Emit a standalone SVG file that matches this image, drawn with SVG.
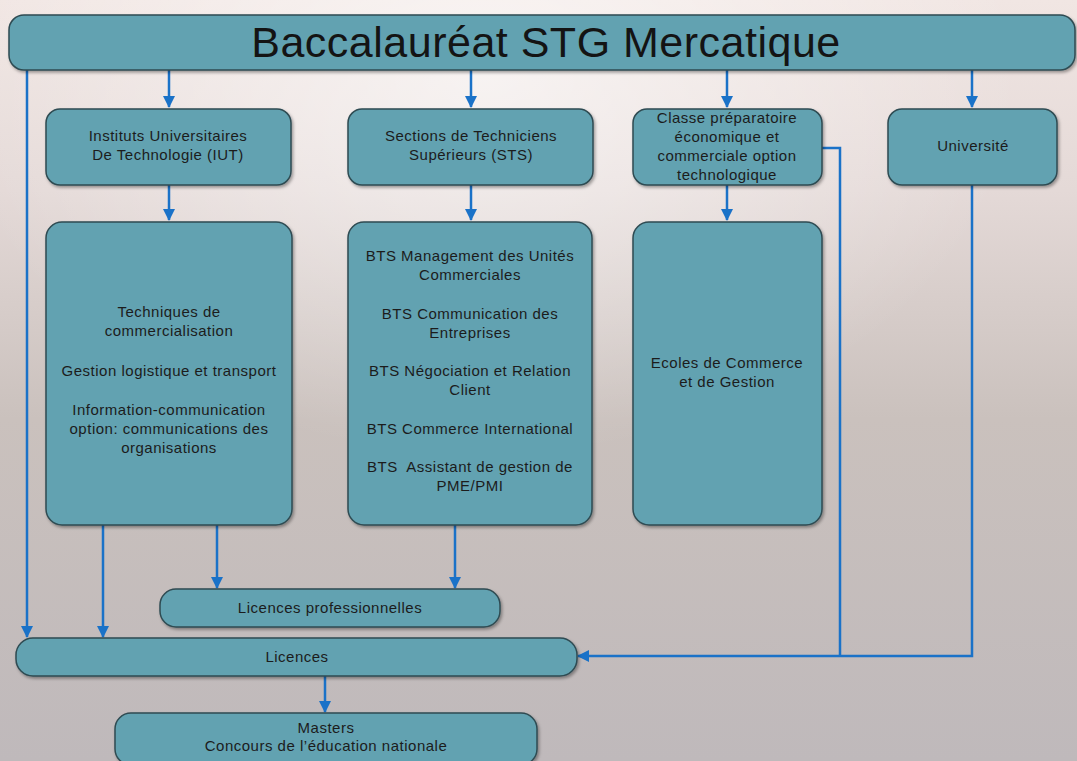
<svg xmlns="http://www.w3.org/2000/svg" width="1077" height="761" viewBox="0 0 1077 761">
<defs>
<linearGradient id="bg" x1="0" y1="0" x2="0" y2="1">
<stop offset="0" stop-color="#f1e6e3"/>
<stop offset="0.25" stop-color="#e4d9d7"/>
<stop offset="0.55" stop-color="#cac1bd"/>
<stop offset="1" stop-color="#bfb9bb"/>
</linearGradient>
<radialGradient id="glow" cx="0.45" cy="0.1" r="0.5">
<stop offset="0" stop-color="#ffffff" stop-opacity="0.6"/>
<stop offset="1" stop-color="#ffffff" stop-opacity="0"/>
</radialGradient>
<filter id="sh" x="-10%" y="-10%" width="120%" height="130%">
<feDropShadow dx="1.5" dy="2" stdDeviation="1.5" flood-color="#000" flood-opacity="0.35"/>
</filter>
<marker id="ar" markerUnits="userSpaceOnUse" markerWidth="12" markerHeight="12" viewBox="0 0 12 12" refX="11" refY="6" orient="auto">
<path d="M0,0 L12,6 L0,12 Z" fill="#1a72c8"/>
</marker>
<style>
.box{fill:#62a2b1;stroke:#2f4b52;stroke-width:1.5;filter:url(#sh)}
.t{font-family:"Liberation Sans",Arial,sans-serif;font-size:15px;letter-spacing:0.5px;fill:#1c1c1c;text-anchor:middle}
.title{font-family:"Liberation Sans",Arial,sans-serif;font-size:43px;letter-spacing:0.5px;fill:#141414;text-anchor:middle}
.c{fill:none;stroke:#1a72c8;stroke-width:2.5}
.ca{fill:none;stroke:#1a72c8;stroke-width:2.5;marker-end:url(#ar)}
</style>
</defs>
<rect width="1077" height="761" fill="url(#bg)"/>
<rect width="1077" height="761" fill="url(#glow)"/>

<g id="connectors">
<path class="ca" d="M169,70 V107"/>
<path class="ca" d="M471,70 V107"/>
<path class="ca" d="M727,70 V107"/>
<path class="ca" d="M972,70 V107"/>
<path class="ca" d="M169,185 V220"/>
<path class="ca" d="M471,185 V220"/>
<path class="ca" d="M727,185 V220"/>
<path class="ca" d="M27,70 V637"/>
<path class="ca" d="M103,525 V637"/>
<path class="ca" d="M217,525 V588"/>
<path class="ca" d="M455,525 V588"/>
<path class="ca" d="M325,676 V712"/>
<path class="c" d="M822,148 H840 V656"/>
<path class="ca" d="M972,185 V656 H578"/>
</g>

<g id="bac">
<rect class="box" x="9" y="15" width="1066" height="55" rx="15"/>
<text class="title" x="546" y="57">Baccalauréat STG Mercatique</text>
</g>

<g id="iut">
<rect class="box" x="46" y="109" width="245" height="76" rx="14"/>
<text class="t" x="168" y="141">Instituts Universitaires</text>
<text class="t" x="168" y="160">De Technologie (IUT)</text>
</g>

<g id="sts">
<rect class="box" x="348" y="109" width="245" height="76" rx="14"/>
<text class="t" x="471" y="141">Sections de Techniciens</text>
<text class="t" x="471" y="160">Supérieurs (STS)</text>
</g>

<g id="prepa">
<rect class="box" x="633" y="109" width="189" height="76" rx="14"/>
<text class="t" x="727" y="123">Classe préparatoire</text>
<text class="t" x="727" y="142">économique et</text>
<text class="t" x="727" y="161">commerciale option</text>
<text class="t" x="727" y="180">technologique</text>
</g>

<g id="universite">
<rect class="box" x="888" y="109" width="169" height="76" rx="14"/>
<text class="t" x="973" y="151">Université</text>
</g>

<g id="iut-formations">
<rect class="box" x="46" y="222" width="246" height="303" rx="16"/>
<text class="t" x="169" y="317">Techniques de</text>
<text class="t" x="169" y="336">commercialisation</text>
<text class="t" x="169" y="376">Gestion logistique et transport</text>
<text class="t" x="169" y="415">Information-communication</text>
<text class="t" x="169" y="434">option: communications des</text>
<text class="t" x="169" y="453">organisations</text>
</g>

<g id="bts">
<rect class="box" x="348" y="222" width="244" height="303" rx="16"/>
<text class="t" x="470" y="261">BTS Management des Unités</text>
<text class="t" x="470" y="280">Commerciales</text>
<text class="t" x="470" y="319">BTS Communication des</text>
<text class="t" x="470" y="338">Entreprises</text>
<text class="t" x="470" y="376">BTS Négociation et Relation</text>
<text class="t" x="470" y="395">Client</text>
<text class="t" x="470" y="434">BTS Commerce International</text>
<text class="t" x="470" y="472" xml:space="preserve">BTS  Assistant de gestion de</text>
<text class="t" x="470" y="491">PME/PMI</text>
</g>

<g id="ecoles">
<rect class="box" x="633" y="222" width="189" height="303" rx="16"/>
<text class="t" x="727" y="368">Ecoles de Commerce</text>
<text class="t" x="727" y="387">et de Gestion</text>
</g>

<g id="licences-pro">
<rect class="box" x="160" y="589" width="340" height="38" rx="16"/>
<text class="t" x="330" y="613">Licences professionnelles</text>
</g>

<g id="licences">
<rect class="box" x="16" y="638" width="561" height="38" rx="17"/>
<text class="t" x="297" y="662">Licences</text>
</g>

<g id="masters">
<rect class="box" x="115" y="713" width="422" height="52" rx="16"/>
<text class="t" x="326" y="733">Masters</text>
<text class="t" x="326" y="751">Concours de l’éducation nationale</text>
</g>
</svg>
